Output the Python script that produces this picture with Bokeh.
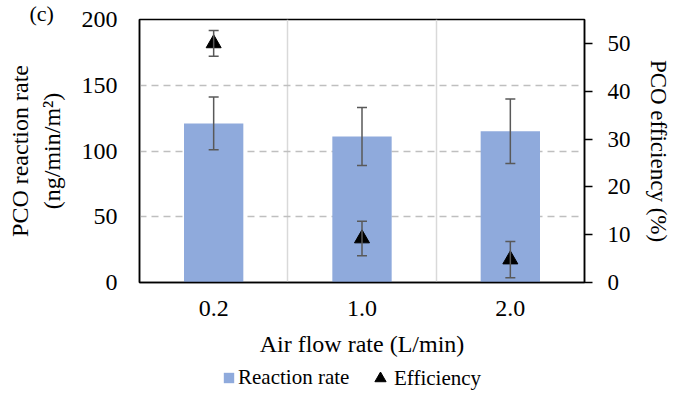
from bokeh.plotting import figure
from bokeh.layouts import column
from bokeh.models import (Range1d, LinearAxis, FixedTicker, ColumnDataSource, Whisker,
                          TeeHead, Legend, LegendItem, Title)
from bokeh.embed import file_html
from bokeh.resources import INLINE

# ---- data ----
categories = ["0.2", "1.0", "2.0"]
rate = [121, 111, 115]
rate_err = [20, 22, 24.5]
eff = [50, 9.2, 4.8]
eff_err = [2.7, 3.6, 3.8]
left_ticks = [0, 50, 100, 150, 200]
right_ticks = [0, 10, 20, 30, 40, 50]
series_names = ["Reaction rate", "Efficiency"]

xpos = [i + 0.5 for i in range(len(categories))]

FONT = "Liberation Serif"
BAR = "#8FAADC"
ERR = "#595959"

src = ColumnDataSource(dict(
    x=xpos, rate=rate,
    r_up=[v + e for v, e in zip(rate, rate_err)],
    r_lo=[v - e for v, e in zip(rate, rate_err)],
    eff=eff,
    e_up=[v + e for v, e in zip(eff, eff_err)],
    e_lo=[v - e for v, e in zip(eff, eff_err)],
))

p = figure(frame_width=445, frame_height=263, output_backend="svg", toolbar_location=None,
           x_range=Range1d(0, 3), y_range=Range1d(0, 200),
           min_border_left=139, min_border_right=87, min_border_top=19, min_border_bottom=0)
p.extra_y_ranges = {"eff": Range1d(0, 55)}
p.outline_line_color = "black"
p.outline_line_width = 1.5
p.background_fill_color = "white"
p.border_fill_color = "white"

# grids
p.ygrid.ticker = FixedTicker(ticks=[50, 100, 150])
p.ygrid.grid_line_color = "#BFBFBF"
p.ygrid.grid_line_dash = "7 5"
p.ygrid.grid_line_width = 1.5
p.xgrid.ticker = FixedTicker(ticks=[1, 2])
p.xgrid.grid_line_color = "#D9D9D9"
p.xgrid.grid_line_width = 1.5

# bars, points, error bars
p.vbar(x="x", top="rate", width=0.4, source=src, fill_color=BAR, line_color=None)
p.scatter(x="x", y="eff", source=src, y_range_name="eff", marker="triangle",
          size=15, fill_color="black", line_color="black")
p.add_layout(Whisker(source=src, base="x", upper="r_up", lower="r_lo", dimension="height",
                     level="overlay", line_color=ERR, line_width=1.5,
                     upper_head=TeeHead(size=10, line_color=ERR, line_width=1.5),
                     lower_head=TeeHead(size=10, line_color=ERR, line_width=1.5)))
p.add_layout(Whisker(source=src, base="x", upper="e_up", lower="e_lo", dimension="height",
                     y_range_name="eff", level="overlay", line_color=ERR, line_width=1.5,
                     upper_head=TeeHead(size=10, line_color=ERR, line_width=1.5),
                     lower_head=TeeHead(size=10, line_color=ERR, line_width=1.5)))

# axes
def style(ax, size="24px"):
    ax.axis_line_color = "black"
    ax.axis_line_width = 1.5
    ax.major_label_text_font = FONT
    ax.major_label_text_font_size = size
    ax.major_label_text_color = "black"
    ax.axis_label_text_font = FONT
    ax.axis_label_text_font_size = size
    ax.axis_label_text_font_style = "normal"
    ax.axis_label_text_color = "black"
    ax.minor_tick_line_color = None

xa = p.xaxis[0]
style(xa)
xa.ticker = FixedTicker(ticks=xpos)
xa.major_label_overrides = {x: c for x, c in zip(xpos, categories)}
xa.major_tick_line_color = None
xa.major_tick_out = 0
xa.major_label_standoff = 18
xa.axis_label = "Air flow rate (L/min)"
xa.axis_label_standoff = 12

ya = p.yaxis[0]
style(ya)
ya.ticker = FixedTicker(ticks=left_ticks)
ya.major_tick_line_color = None
ya.major_tick_out = 0
ya.major_label_standoff = 22
ya.axis_label = "PCO reaction rate\n(ng/min/m\u00b2)"
ya.axis_label_standoff = 14

ra = LinearAxis(y_range_name="eff", ticker=FixedTicker(ticks=right_ticks))
style(ra, "23px")
ra.major_tick_out = 8
ra.major_tick_in = 0
ra.major_tick_line_width = 1.5
ra.major_tick_line_color = "black"
ra.major_label_standoff = 15
ra.axis_label = "PCO efficiency (%)"
ra.axis_label_standoff = 12
p.add_layout(ra, "right")

p.add_layout(Title(text="(c)", align="left", offset=-110, standoff=-12, vertical_align="bottom",
                   text_font=FONT, text_font_size="22px", text_font_style="normal",
                   text_color="black"), "above")

# legend strip (separate small figure so the legend is not clipped);
# its key renderers use the same data, kept out of view by the strip's ranges
p2 = figure(frame_width=671, frame_height=34, output_backend="svg", toolbar_location=None,
            x_range=Range1d(100, 101), y_range=Range1d(1000, 1001), min_border=0)
p2.axis.visible = False
p2.grid.visible = False
p2.outline_line_color = None
p2.border_fill_color = "white"
p2.background_fill_color = "white"
kb = p2.vbar(x="x", top="rate", width=0.4, source=src, fill_color=BAR, line_color=None)
kt = p2.scatter(x="x", y="eff", source=src, marker="triangle", size=15,
                fill_color="black", line_color="black")

common = dict(orientation="horizontal", label_text_font=FONT, label_text_font_size="21px",
              label_text_color="black", padding=0, margin=0, border_line_color=None,
              background_fill_alpha=0)
leg_a = Legend(items=[LegendItem(label=series_names[0], renderers=[kb])],
               location=(222, 3), glyph_width=13, glyph_height=13, label_standoff=3, **common)
leg_b = Legend(items=[LegendItem(label=series_names[1], renderers=[kt])],
               location=(366, 1), glyph_width=28, glyph_height=28, label_standoff=0, **common)
p2.add_layout(leg_a)
p2.add_layout(leg_b)

open("out.html", "w").write(file_html(column(p, p2, spacing=0), INLINE))
